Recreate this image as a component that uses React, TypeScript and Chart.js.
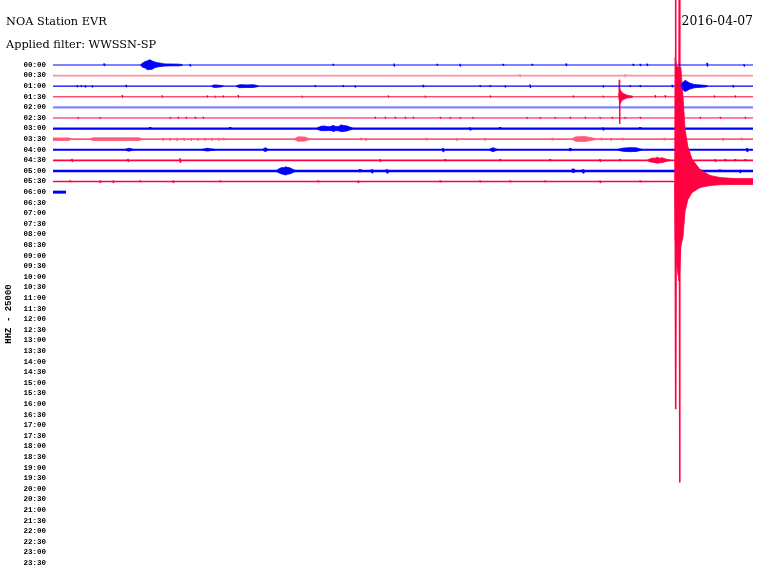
import { useEffect, useRef } from 'react';
import { Chart, registerables } from 'chart.js';

Chart.register(...registerables);

const STATION = 'NOA Station EVR';
const FILTER = 'Applied filter: WWSSN-SP';
const DATE = '2016-04-07';
const AXIS_TITLE = 'HHZ - 25000';

const ROW_LABELS = [
  '00:00', '00:30', '01:00', '01:30', '02:00', '02:30', '03:00', '03:30',
  '04:00', '04:30', '05:00', '05:30', '06:00', '06:30', '07:00', '07:30',
  '08:00', '08:30', '09:00', '09:30', '10:00', '10:30', '11:00', '11:30',
  '12:00', '12:30', '13:00', '13:30', '14:00', '14:30', '15:00', '15:30',
  '16:00', '16:30', '17:00', '17:30', '18:00', '18:30', '19:00', '19:30',
  '20:00', '20:30', '21:00', '21:30', '22:00', '22:30', '23:00', '23:30',
];

// minute at which each recorded row's trace ends (x axis: 0..30 minutes)
const ROW_END = [30, 30, 30, 30, 30, 30, 30, 30, 30, 30, 30, 30, 0.56];

// spikes: [minute, up, down] in units of row spacing
type Spike = [number, number, number];
type Env = [number, number, number][];

const SPIKES_0000: Spike[] = [[2.19, 0.14, 0.1], [5.87, 0.1, 0.1], [12.0, 0.1, 0.08], [14.61, 0.14, 0.1], [16.46, 0.1, 0.08], [17.44, 0.12, 0.1], [19.29, 0.1, 0.08], [20.53, 0.1, 0.08], [21.99, 0.14, 0.1], [24.86, 0.1, 0.1], [25.16, 0.1, 0.1], [25.46, 0.12, 0.1], [28.03, 0.2, 0.15], [29.61, 0.1, 0.1]];
const SPIKES_0030: Spike[] = [[20.01, 0.14, 0.1], [24.51, 0.14, 0.1]];
const SPIKES_0100: Spike[] = [[1.03, 0.1, 0.1], [1.2, 0.08, 0.08], [1.37, 0.1, 0.1], [1.67, 0.1, 0.08], [3.13, 0.12, 0.1], [11.23, 0.1, 0.08], [12.43, 0.1, 0.08], [12.94, 0.1, 0.1], [15.86, 0.12, 0.1], [18.3, 0.1, 0.08], [18.73, 0.1, 0.08], [19.37, 0.1, 0.08], [20.44, 0.18, 0.12], [23.57, 0.1, 0.08], [24.73, 0.1, 0.08], [25.16, 0.1, 0.08], [26.53, 0.12, 0.1], [29.14, 0.12, 0.1]];
const SPIKES_0130: Spike[] = [[2.96, 0.14, 0.1], [4.67, 0.14, 0.1], [6.6, 0.1, 0.08], [6.94, 0.1, 0.08], [7.29, 0.1, 0.08], [7.93, 0.14, 0.1], [10.67, 0.1, 0.08], [14.36, 0.1, 0.08], [15.94, 0.1, 0.08], [18.73, 0.1, 0.08], [22.29, 0.1, 0.08], [23.57, 0.1, 0.08], [24.27, 1.6, 2.55], [25.8, 0.12, 0.1], [26.23, 0.12, 0.1], [28.33, 0.1, 0.08], [29.23, 0.1, 0.08]];
const SPIKES_0200: Spike[] = [];
const SPIKES_0230: Spike[] = [[1.07, 0.1, 0.08], [2.01, 0.1, 0.08], [5.01, 0.1, 0.08], [5.36, 0.1, 0.08], [5.7, 0.1, 0.08], [6.09, 0.1, 0.08], [6.43, 0.1, 0.08], [13.8, 0.1, 0.08], [14.23, 0.1, 0.08], [14.66, 0.1, 0.08], [15.09, 0.1, 0.08], [15.43, 0.1, 0.08], [16.59, 0.1, 0.08], [17.01, 0.1, 0.08], [17.44, 0.1, 0.08], [17.99, 0.1, 0.08], [20.31, 0.1, 0.08], [20.87, 0.1, 0.08], [21.51, 0.1, 0.08], [22.16, 0.1, 0.08], [22.8, 0.1, 0.08], [23.44, 0.1, 0.08], [23.96, 0.1, 0.08], [24.51, 0.1, 0.08], [25.16, 0.1, 0.08], [26.87, 0.1, 0.08], [27.73, 0.1, 0.08], [28.59, 0.1, 0.08], [29.66, 0.1, 0.08]];
const SPIKES_0300: Spike[] = [[4.16, 0.12, 0.1], [7.59, 0.12, 0.1], [12.0, 0.3, 0.3], [12.35, 0.35, 0.3], [17.87, 0.12, 0.1], [19.16, 0.12, 0.1], [23.57, 0.12, 0.1], [25.16, 0.12, 0.1]];
const SPIKES_0330: Spike[] = [[4.7, 0.12, 0.1], [5.0, 0.12, 0.1], [5.3, 0.12, 0.1], [5.6, 0.12, 0.1], [5.9, 0.12, 0.1], [6.2, 0.12, 0.1], [6.5, 0.12, 0.1], [6.8, 0.12, 0.1], [7.1, 0.12, 0.1], [7.3, 0.12, 0.1], [13.2, 0.12, 0.1], [13.4, 0.12, 0.1], [16.0, 0.12, 0.1], [17.3, 0.12, 0.1], [18.5, 0.12, 0.1], [21.4, 0.12, 0.1], [23.5, 0.12, 0.1], [23.9, 0.12, 0.1], [24.4, 0.12, 0.1], [26.2, 0.12, 0.1], [28.7, 0.12, 0.1], [29.5, 0.12, 0.1]];
const SPIKES_0400: Spike[] = [[16.71, 0.15, 0.12], [22.16, 0.15, 0.12], [29.74, 0.15, 0.12]];
const SPIKES_0430: Spike[] = [[0.81, 0.14, 0.1], [3.21, 0.14, 0.1], [5.44, 0.2, 0.18], [14.01, 0.12, 0.1], [16.8, 0.12, 0.1], [19.16, 0.12, 0.1], [21.3, 0.12, 0.1], [23.44, 0.12, 0.1], [24.3, 0.12, 0.1], [28.37, 0.12, 0.1], [28.8, 0.12, 0.1], [29.23, 0.12, 0.1], [29.66, 0.12, 0.1]];
const SPIKES_0500: Spike[] = [[13.16, 0.15, 0.12], [13.67, 0.15, 0.12], [14.31, 0.15, 0.14], [22.29, 0.2, 0.18], [22.71, 0.15, 0.14], [27.73, 0.12, 0.1], [28.59, 0.12, 0.1], [29.44, 0.12, 0.1]];
const SPIKES_0530: Spike[] = [[0.73, 0.1, 0.08], [2.01, 0.1, 0.08], [2.57, 0.1, 0.08], [3.73, 0.1, 0.08], [5.14, 0.1, 0.08], [7.16, 0.1, 0.08], [11.36, 0.1, 0.08], [13.07, 0.1, 0.08], [16.59, 0.1, 0.08], [18.3, 0.1, 0.08], [19.59, 0.1, 0.08], [21.09, 0.1, 0.08], [23.44, 0.1, 0.08], [25.16, 0.1, 0.08], [26.68, 20, 21.5], [26.84, 20, 28.4]];
const SPIKES_0600: Spike[] = [];

// bursts: envelopes [minute, up, down] in units of row spacing
const BURSTS_0000: Env[] = [[[3.75, 0.03, 0.03], [3.85, 0.2, 0.22], [3.95, 0.32, 0.28], [4.05, 0.4, 0.45], [4.15, 0.5, 0.42], [4.25, 0.38, 0.4], [4.35, 0.3, 0.26], [4.45, 0.22, 0.2], [4.55, 0.2, 0.16], [4.7, 0.13, 0.12], [4.8, 0.1, 0.1], [5.1, 0.09, 0.08], [5.4, 0.08, 0.08], [5.55, 0.03, 0.03]]];
const BURSTS_0030: Env[] = [];
const BURSTS_0100: Env[] = [
  [[6.8, 0.03, 0.03], [6.9, 0.12, 0.12], [7.1, 0.1, 0.1], [7.3, 0.03, 0.03]],
  [[7.85, 0.03, 0.03], [8.0, 0.14, 0.14], [8.3, 0.12, 0.12], [8.6, 0.14, 0.12], [8.8, 0.03, 0.03]],
  [[26.9, 0.03, 0.03], [26.97, 0.3, 0.25], [27.03, 0.45, 0.4], [27.1, 0.55, 0.5], [27.17, 0.45, 0.42], [27.3, 0.28, 0.26], [27.5, 0.15, 0.14], [27.94, 0.08, 0.08], [28.07, 0.02, 0.02]],
];
const BURSTS_0130: Env[] = [[[24.24, 0.05, 0.05], [24.3, 0.7, 0.65], [24.36, 0.45, 0.4], [24.45, 0.3, 0.25], [24.6, 0.15, 0.12], [24.85, 0.05, 0.05]]];
const BURSTS_0200: Env[] = [];
const BURSTS_0230: Env[] = [];
const BURSTS_0300: Env[] = [[[11.3, 0.03, 0.03], [11.45, 0.2, 0.18], [11.6, 0.25, 0.2], [11.8, 0.18, 0.18], [12.0, 0.22, 0.2], [12.2, 0.2, 0.2], [12.4, 0.3, 0.28], [12.6, 0.25, 0.22], [12.75, 0.12, 0.1], [12.85, 0.03, 0.03]]];
const BURSTS_0330: Env[] = [
  [[0, 0.12, 0.12], [0.7, 0.12, 0.12], [0.75, 0.03, 0.03]],
  [[1.6, 0.03, 0.03], [1.7, 0.13, 0.13], [3.7, 0.13, 0.13], [3.8, 0.03, 0.03]],
  [[10.35, 0.03, 0.03], [10.5, 0.22, 0.2], [10.8, 0.2, 0.18], [11.0, 0.03, 0.03]],
  [[22.25, 0.03, 0.03], [22.4, 0.22, 0.2], [22.8, 0.25, 0.22], [23.3, 0.03, 0.03]],
];
const BURSTS_0400: Env[] = [
  [[3.1, 0.03, 0.03], [3.25, 0.15, 0.13], [3.45, 0.03, 0.03]],
  [[6.4, 0.03, 0.03], [6.6, 0.14, 0.12], [6.95, 0.03, 0.03]],
  [[8.98, 0.03, 0.03], [9.1, 0.2, 0.18], [9.22, 0.03, 0.03]],
  [[18.7, 0.03, 0.03], [18.85, 0.2, 0.18], [19.05, 0.03, 0.03]],
  [[24.2, 0.03, 0.03], [24.4, 0.15, 0.14], [24.7, 0.2, 0.18], [25.0, 0.18, 0.16], [25.25, 0.03, 0.03]],
];
const BURSTS_0430: Env[] = [[[25.47, 0.03, 0.03], [25.6, 0.15, 0.15], [25.7, 0.22, 0.18], [25.8, 0.2, 0.22], [25.9, 0.3, 0.28], [26.0, 0.2, 0.22], [26.1, 0.25, 0.22], [26.3, 0.1, 0.08], [26.45, 0.03, 0.03]]];
const BURSTS_0500: Env[] = [[[9.58, 0.05, 0.05], [9.7, 0.22, 0.2], [9.8, 0.32, 0.28], [9.9, 0.3, 0.34], [9.98, 0.4, 0.38], [10.06, 0.32, 0.3], [10.15, 0.3, 0.28], [10.33, 0.1, 0.1], [10.4, 0.04, 0.04]]];
const BURSTS_0530: Env[] = [[[26.64, 0.1, 0.1], [26.66, 11.7, 5.2], [26.74, 10.85, 8.0], [26.83, 10.75, 9.4], [26.91, 10.75, 6.1], [27.0, 8.0, 5.2], [27.09, 4.9, 2.8], [27.21, 3.3, 1.7], [27.39, 2.1, 1.04], [27.73, 1.13, 0.57], [28.16, 0.57, 0.38], [28.59, 0.38, 0.3], [29.23, 0.28, 0.28], [30, 0.28, 0.28]]];
const BURSTS_0600: Env[] = [];

const ROW_SPIKES = [SPIKES_0000, SPIKES_0030, SPIKES_0100, SPIKES_0130, SPIKES_0200, SPIKES_0230, SPIKES_0300, SPIKES_0330, SPIKES_0400, SPIKES_0430, SPIKES_0500, SPIKES_0530, SPIKES_0600];
const ROW_BURSTS = [BURSTS_0000, BURSTS_0030, BURSTS_0100, BURSTS_0130, BURSTS_0200, BURSTS_0230, BURSTS_0300, BURSTS_0330, BURSTS_0400, BURSTS_0430, BURSTS_0500, BURSTS_0530, BURSTS_0600];

// styles
const BLUE = '#0000ff';
const RED = '#ff0040';
const ROW_COLOR = [BLUE, '#ff8ea6', BLUE, RED, '#8484ff', RED, BLUE, '#ff5a7c', BLUE, RED, BLUE, RED, BLUE];
const ROW_WIDTH = [1.2, 1.6, 1.2, 1, 2.2, 1, 2.2, 1.6, 2.2, 1.6, 2.6, 1.6, 3];

const headerPlugin = {
  id: 'header',
  afterDraw(chart: any) {
    const ctx = chart.ctx;
    ctx.save();
    ctx.fillStyle = '#000';
    ctx.textBaseline = 'middle';
    ctx.textAlign = 'left';
    ctx.font = '11.3px "DejaVu Serif"';
    ctx.fillText(STATION, 6, 22);
    ctx.fillText(FILTER, 6, 45);
    ctx.textAlign = 'right';
    ctx.font = '12.4px "DejaVu Serif"';
    ctx.fillText(DATE, 753, 22);
    ctx.restore();
  },
};

export default function App() {
  const ref = useRef<HTMLCanvasElement>(null);
  useEffect(() => {
    document.body.style.margin = '0';
    const datasets: any[] = [];
    ROW_SPIKES.forEach((spikes, r) => {
      const color = ROW_COLOR[r];
      const end = ROW_END[r];
      const pts: { x: number; y: number }[] = [{ x: 0, y: r }];
      const sorted = [...spikes].sort((a, b) => a[0] - b[0]);
      sorted.forEach(([m, up, dn]) => {
        pts.push({ x: m - 0.015, y: r });
        pts.push({ x: m, y: r - up });
        pts.push({ x: m + 0.015, y: r + dn });
        pts.push({ x: m + 0.03, y: r });
      });
      pts.push({ x: end, y: r });
      datasets.push({
        data: pts,
        borderColor: color,
        borderWidth: ROW_WIDTH[r],
        borderJoinStyle: 'bevel',
        pointRadius: 0,
        fill: false,
        clip: false,
        order: 1,
      });
      ROW_BURSTS[r].forEach((env) => {
        datasets.push({
          data: env.map(([m, up]) => ({ x: m, y: r - up })),
          borderColor: color,
          borderWidth: 0.8,
          borderJoinStyle: 'bevel',
          pointRadius: 0,
          fill: false,
          clip: false,
          order: 0,
        });
        datasets.push({
          data: env.map(([m, , dn]) => ({ x: m, y: r + dn })),
          borderColor: color,
          backgroundColor: color,
          borderWidth: 0.8,
          borderJoinStyle: 'bevel',
          pointRadius: 0,
          fill: '-1',
          clip: false,
          order: 0,
        });
      });
    });

    const chart = new Chart(ref.current as HTMLCanvasElement, {
      type: 'line',
      data: { datasets },
      options: {
        responsive: false,
        animation: false,
        devicePixelRatio: 1,
        layout: { padding: { left: 0, right: 7, top: 54.4, bottom: 5.4 } },
        plugins: {
          legend: { display: false },
          tooltip: { enabled: false },
          title: { display: false },
        },
        elements: { point: { radius: 0 }, line: { tension: 0 } },
        scales: {
          x: { type: 'linear', min: 0, max: 30, display: false },
          y: {
            type: 'linear',
            min: -1,
            max: 48,
            reverse: true,
            afterFit: (s: any) => {
              s.width = 53;
            },
            afterBuildTicks: (s: any) => {
              s.ticks = ROW_LABELS.map((_, i) => ({ value: i }));
            },
            ticks: {
              callback: (v: any) => ROW_LABELS[v] ?? '',
              padding: 0,
              autoSkip: false,
              color: '#000',
              font: { family: 'Liberation Mono', size: 7.5, weight: 'bold' },
            },
            grid: {
              display: true,
              drawOnChartArea: false,
              drawTicks: true,
              tickLength: 7,
              color: 'rgba(0,0,0,0)',
            },
            border: { display: false },
            title: {
              display: true,
              text: AXIS_TITLE,
              color: '#000',
              font: { family: 'Liberation Mono', size: 9, weight: 'bold' },
              padding: { top: 3, bottom: 0 },
            },
          },
        },
      } as any,
      plugins: [headerPlugin],
    });
    return () => chart.destroy();
  }, []);
  return (
    <div style={{ width: 760, height: 579 }}>
      <canvas ref={ref} width={760} height={579} style={{ display: 'block' }} />
    </div>
  );
}
